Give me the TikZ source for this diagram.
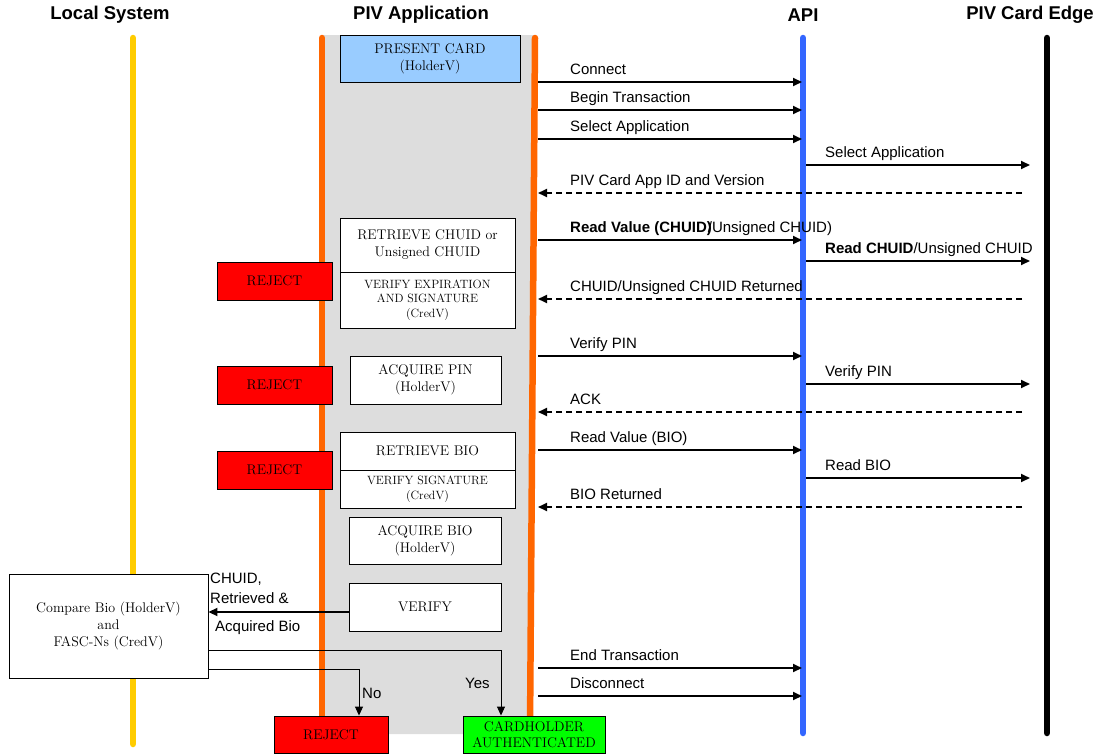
\documentclass[tikz,border=0pt]{standalone}
\usepackage{fontspec}
\newfontfamily\arial{Liberation Sans}
\usetikzlibrary{arrows.meta}
\definecolor{lifeyellow}{HTML}{FFCC00}
\definecolor{lifeorange}{HTML}{FF6600}
\definecolor{lifeblue}{HTML}{3366FF}
\definecolor{cardblue}{HTML}{99CCFF}
\definecolor{appgray}{HTML}{DDDDDD}
\definecolor{rejred}{HTML}{FF0000}
\definecolor{okgreen}{HTML}{00FF00}
\begin{document}
\begin{tikzpicture}[x=1pt,y=-1pt,
  life/.style={line width=6.5pt,line cap=round},
  box/.style={draw,line width=0.9pt,inner sep=0pt,align=center,font=\fontsize{14}{17}\selectfont},
  small/.style={font=\fontsize{12}{14.5}\selectfont},
  msg/.style={line width=1.8pt,-{Triangle[length=9pt,width=8pt]}},
  reply/.style={msg,dash pattern=on 6pt off 4pt},
  thinmsg/.style={line width=0.9pt,-{Triangle[length=9pt,width=8pt]}},
  lbl/.style={anchor=base west,inner sep=0pt,font=\arial\fontsize{15}{18}\selectfont},
  head/.style={font=\arial\bfseries\fontsize{18.5}{20}\selectfont}]
\useasboundingbox (0,0) rectangle (1101,755);

\fill[appgray] (322,35) -- (535,35) -- (530,734) -- (322,734) -- cycle;

\coordinate (ls1) at (133,38);
\coordinate (ls2) at (133,744);
\coordinate (pa1) at (322,38);
\coordinate (pa2) at (322,730);
\coordinate (pb1) at (535,38);
\coordinate (pb2) at (530,730);
\coordinate (api1) at (803,38);
\coordinate (api2) at (803,733);
\coordinate (ce1) at (1047,38);
\coordinate (ce2) at (1047,733);
\draw[life,lifeyellow] (ls1) -- (ls2);
\draw[life,lifeorange] (pa1) -- (pa2);
\draw[life,lifeorange] (pb1) -- (pb2);
\draw[life,lifeblue] (api1) -- (api2);
\draw[life,black] (ce1) -- (ce2);

\node[head] (h1) at (110,15) {Local System};
\node[head] (h2) at (421,15) {PIV Application};
\node[head] (h3) at (803,15) {API};
\node[head] (h4) at (1030,15) {PIV Card Edge};

\node[box,fill=cardblue,minimum width=180pt,minimum height=47pt] (b1) at (430,58.5) {PRESENT CARD\\(HolderV)};
\node[box,fill=white,minimum width=175pt,minimum height=54pt] (b2) at (427.5,245) {RETRIEVE CHUID or\\Unsigned CHUID};
\node[box,small,fill=white,minimum width=175pt,minimum height=56pt] (b3) at (427.5,300) {VERIFY EXPIRATION\\AND SIGNATURE\\(CredV)};
\node[box,fill=white,minimum width=151pt,minimum height=48pt] (b4) at (425.5,380) {ACQUIRE PIN\\(HolderV)};
\node[box,fill=white,minimum width=175pt,minimum height=38pt] (b5) at (427.5,451) {RETRIEVE BIO};
\node[box,small,fill=white,minimum width=175pt,minimum height=38pt] (b6) at (427.5,489) {VERIFY SIGNATURE\\(CredV)};
\node[box,fill=white,minimum width=152pt,minimum height=47pt] (b7) at (425,540.5) {ACQUIRE BIO\\(HolderV)};
\node[box,fill=white,minimum width=152pt,minimum height=48pt] (b8) at (425,607) {VERIFY};
\node[box,fill=white,minimum width=199pt,minimum height=104pt] (b9) at (108.5,626) {Compare Bio (HolderV)\\and\\FASC-Ns (CredV)};

\node[box,fill=rejred,minimum width=115pt,minimum height=38pt] (r1) at (274.5,281) {REJECT};
\node[box,fill=rejred,minimum width=115pt,minimum height=38pt] (r2) at (274.5,385) {REJECT};
\node[box,fill=rejred,minimum width=115pt,minimum height=38pt] (r3) at (274.5,470) {REJECT};
\node[box,fill=rejred,minimum width=114pt,minimum height=37pt] (r4) at (331,734.5) {REJECT};
\node[box,fill=okgreen,minimum width=142pt,minimum height=37pt,font=\fontsize{14}{16}\selectfont] (g1) at (534,734.5) {CARDHOLDER\\AUTHENTICATED};

\coordinate (a1) at (538,82);   \coordinate (p1) at (802,82);
\coordinate (a2) at (538,110);  \coordinate (p2) at (802,110);
\coordinate (a3) at (538,139);  \coordinate (p3) at (802,139);
\coordinate (q4) at (806,165);  \coordinate (c4) at (1030,165);
\coordinate (d5) at (1022,193); \coordinate (a5) at (538,193);
\coordinate (a6) at (538,240);  \coordinate (p6) at (802,240);
\coordinate (q7) at (806,261);  \coordinate (c7) at (1030,261);
\coordinate (d8) at (1022,299); \coordinate (a8) at (538,299);
\coordinate (a9) at (538,356);  \coordinate (p9) at (802,356);
\coordinate (q10) at (806,384); \coordinate (c10) at (1030,384);
\coordinate (d11) at (1022,412); \coordinate (a11) at (538,412);
\coordinate (a12) at (538,450); \coordinate (p12) at (802,450);
\coordinate (q13) at (806,478); \coordinate (c13) at (1030,478);
\coordinate (d14) at (1022,507); \coordinate (a14) at (538,507);
\coordinate (a15) at (538,668); \coordinate (p15) at (802,668);
\coordinate (a16) at (538,696); \coordinate (p16) at (802,696);

\draw[msg] (a1) -- (p1);
\draw[msg] (a2) -- (p2);
\draw[msg] (a3) -- (p3);
\draw[msg] (q4) -- (c4);
\draw[reply] (d5) -- (a5);
\draw[msg] (a6) -- (p6);
\draw[msg] (q7) -- (c7);
\draw[reply] (d8) -- (a8);
\draw[msg] (a9) -- (p9);
\draw[msg] (q10) -- (c10);
\draw[reply] (d11) -- (a11);
\draw[msg] (a12) -- (p12);
\draw[msg] (q13) -- (c13);
\draw[reply] (d14) -- (a14);
\draw[msg] (a15) -- (p15);
\draw[msg] (a16) -- (p16);

\node[lbl] (t1) at (570,74.5) {Connect};
\node[lbl] (t2) at (570,102.5) {Begin Transaction};
\node[lbl] (t3) at (570,131.5) {Select Application};
\node[lbl] (t4) at (825,157.5) {Select Application};
\node[lbl] (t5) at (570,185.5) {PIV Card App ID and Version};
\node[lbl] (t6) at (570,232.5) {\textbf{Read Value (CHUID)}\hspace{-4pt}/Unsigned CHUID)};
\node[lbl] (t7) at (825,253.5) {\textbf{Read CHUID}/Unsigned CHUID};
\node[lbl] (t8) at (570,291.5) {CHUID/Unsigned CHUID Returned};
\node[lbl] (t9) at (570,348.5) {Verify PIN};
\node[lbl] (t10) at (825,376.5) {Verify PIN};
\node[lbl] (t11) at (570,404.5) {ACK};
\node[lbl] (t12) at (570,442.5) {Read Value (BIO)};
\node[lbl] (t13) at (825,470.5) {Read BIO};
\node[lbl] (t14) at (570,499.5) {BIO Returned};
\node[lbl] (t15) at (570,660.5) {End Transaction};
\node[lbl] (t16) at (570,688.5) {Disconnect};

\draw[msg] ([yshift=-5pt]b8.west) coordinate (vq) -- (b9.east |- vq);
\node[lbl,align=left,font=\arial\fontsize{15}{20}\selectfont] (t17) at (210,603.5) {CHUID,\\Retrieved \&};
\node[lbl] (t18) at (215,631.5) {Acquired Bio};

\coordinate (k1) at (501,650);
\coordinate (k2) at (359,669);
\draw[thinmsg] (b9.east |- k1) -- (k1) -- (k1 |- g1.north);
\draw[thinmsg] (b9.east |- k2) -- (k2) -- (k2 |- r4.north);
\node[lbl] (t19) at (362,698.5) {No};
\node[lbl] (t20) at (465,688.5) {Yes};
\end{tikzpicture}
\end{document}
